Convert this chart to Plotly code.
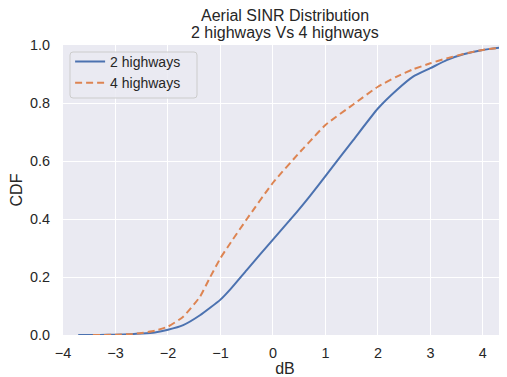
import plotly.graph_objects as go

# ---- data ----
x_2hw = [-3.71, -3.3, -3.0, -2.7, -2.5, -2.25, -2.0, -1.71, -1.39, -1.0, -0.8, -0.5,
         0.0, 0.45, 0.7, 1.0, 1.53, 2.0, 2.36, 2.67, 3.0, 3.31, 3.63, 4.0, 4.46]
cdf_2hw = [0.0, 0.0, 0.001, 0.003, 0.005, 0.009, 0.018, 0.034, 0.068, 0.122, 0.16, 0.224,
           0.329, 0.423, 0.478, 0.548, 0.672, 0.781, 0.845, 0.891, 0.92, 0.948, 0.968, 0.983, 0.994]

x_4hw = [-3.43, -3.0, -2.7, -2.5, -2.25, -2.0, -1.71, -1.39, -1.2, -1.0, -0.8, -0.5,
         0.0, 0.55, 0.7, 1.0, 1.53, 2.0, 2.36, 2.67, 3.0, 3.31, 3.63, 4.0, 4.46]
cdf_4hw = [0.0, 0.001, 0.003, 0.007, 0.015, 0.029, 0.063, 0.132, 0.198, 0.265, 0.32, 0.399,
           0.525, 0.638, 0.667, 0.724, 0.795, 0.856, 0.891, 0.916, 0.937, 0.954, 0.969, 0.983, 0.994]

x_ticks = [-4, -3, -2, -1, 0, 1, 2, 3, 4]
y_ticks = [0.0, 0.2, 0.4, 0.6, 0.8, 1.0]

title_lines = ["Aerial SINR Distribution", "2 highways Vs 4 highways"]

FONT = "Liberation Sans, Arial, sans-serif"
TXT = "#262626"

fig = go.Figure()
fig.add_trace(go.Scatter(x=x_2hw, y=cdf_2hw, mode="lines", name="2 highways",
                         line=dict(color="#4C72B0", width=2, shape="spline", smoothing=0.5)))
fig.add_trace(go.Scatter(x=x_4hw, y=cdf_4hw, mode="lines", name="4 highways",
                         line=dict(color="#DD8452", width=2, dash="7px,4px",
                                   shape="spline", smoothing=0.5)))

# plot area in page pixels: x 63..507, y 45..335 (page body has 8px default margin)
PW, PH = 444.0, 290.0


def px_x(p):
    return (p - 63) / PW


def px_y(p):
    return (335 - p) / PH


# rounded legend frame (matplotlib style)
x0, x1, y0, y1 = px_x(70), px_x(197), px_y(98), px_y(52)
rx, ry = 3 / PW, 3 / PH
frame_path = (f"M {x0+rx},{y0} L {x1-rx},{y0} Q {x1},{y0} {x1},{y0+ry} "
              f"L {x1},{y1-ry} Q {x1},{y1} {x1-rx},{y1} L {x0+rx},{y1} "
              f"Q {x0},{y1} {x0},{y1-ry} L {x0},{y0+ry} Q {x0},{y0} {x0+rx},{y0} Z")
fig.add_shape(type="path", path=frame_path, xref="paper", yref="paper", layer="above",
              fillcolor="rgba(234,234,242,0.85)", line=dict(color="#CCCCCC", width=1))

fig.update_layout(
    width=499, height=369,
    margin=dict(l=55, r=0, t=37, b=42),
    paper_bgcolor="white", plot_bgcolor="#EAEAF2",
    font=dict(family=FONT, size=14.4, color=TXT),
    legend=dict(x=0.016, y=0.997, xanchor="left", yanchor="top",
                bgcolor="rgba(0,0,0,0)", borderwidth=0,
                font=dict(size=14, color=TXT)),
    showlegend=True,
)
for txt, ypx in zip(title_lines, [15, 32]):
    fig.add_annotation(text=txt, x=0.5, xref="paper", xanchor="center",
                       y=px_y(ypx), yref="paper", yanchor="middle",
                       showarrow=False, font=dict(size=16, color=TXT))

fig.update_xaxes(range=[-4, 4.46], tickvals=x_ticks,
                 ticktext=[str(v).replace("-", "\u2212") for v in x_ticks],
                 showgrid=True, gridcolor="white", gridwidth=1.3, zeroline=False,
                 showline=False, ticks="", ticklabelstandoff=8,
                 title=dict(text="dB", standoff=12, font=dict(size=16, color=TXT)),
                 automargin=False)
fig.update_yaxes(range=[0, 1], tickvals=y_ticks, ticktext=[f"{v:.1f}" for v in y_ticks],
                 showgrid=True, gridcolor="white", gridwidth=1.3, zeroline=False,
                 showline=False, ticks="", ticklabelstandoff=12,
                 title=dict(text="CDF", standoff=4, font=dict(size=16, color=TXT)),
                 automargin=False)

fig.write_html("out.html")
